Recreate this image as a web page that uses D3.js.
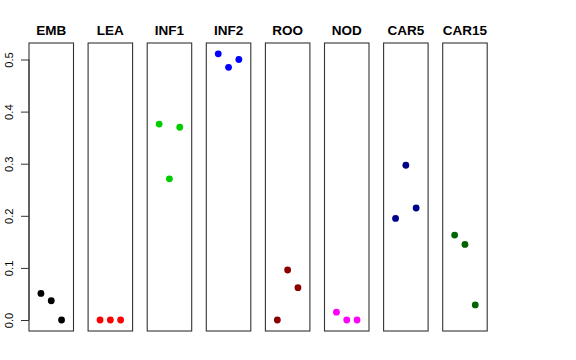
<!DOCTYPE html>
<html><head><meta charset="utf-8">
<script src="https://cdn.jsdelivr.net/npm/d3@7"></script>
<style>body{margin:0;background:#fff}svg{display:block}</style>
</head><body>
<script>
const categories = ["EMB","LEA","INF1","INF2","ROO","NOD","CAR5","CAR15"];
const colors = ["#000000","#FF0000","#00CD00","#0000FF","#8B0000","#FF00FF","#00008B","#006400"];
const values = [
  [0.051, 0.037, 0.000],
  [0.000, 0.000, 0.000],
  [0.376, 0.271, 0.370],
  [0.511, 0.485, 0.500],
  [0.000, 0.096, 0.062],
  [0.015, 0.000, 0.000],
  [0.195, 0.297, 0.215],
  [0.163, 0.145, 0.029]
];
const yTicks = [0.0, 0.1, 0.2, 0.3, 0.4, 0.5];
const tickLabels = ["0.0","0.1","0.2","0.3","0.4","0.5"];

(function () {
const W = 576, H = 360;
const svg = d3.select("body").append("svg").attr("width", W).attr("height", H);

const plotTop = 43, plotBottom = 331;
const y = d3.scaleLinear().domain([-0.0211, 0.5317]).range([plotBottom, plotTop]);
const panelLeft = 29, panelStep = 59.1, panelW = 44.5;

categories.forEach((c, i) => {
  const x0 = panelLeft + i * panelStep;
  const x = d3.scaleLinear().domain([-0.16, 4.16]).range([x0, x0 + panelW]);
  const g = svg.append("g");
  g.append("rect").attr("x", x0).attr("y", plotTop).attr("width", panelW).attr("height", plotBottom - plotTop)
    .attr("fill", "none").attr("stroke", "#333").attr("stroke-width", 1.1);
  g.append("text").attr("x", x0 + panelW / 2).attr("y", 35).attr("text-anchor", "middle")
    .attr("font-family", "Liberation Sans, Arial, sans-serif").attr("font-weight", "bold")
    .attr("font-size", "13.5px").text(c);
  g.selectAll("circle").data(values[i]).enter().append("circle")
    .attr("cx", (d, j) => x(j + 1)).attr("cy", d => y(d)).attr("r", 3.4)
    .attr("fill", colors[i]);
});

const axis = d3.axisLeft(y).tickValues(yTicks).tickFormat((d, i) => tickLabels[i]).tickSize(8).tickPadding(0);
const ag = svg.append("g").attr("transform", `translate(${panelLeft},0)`).call(axis);
ag.select(".domain").attr("d", `M-0,${y(0)}V${y(0.5)}`).attr("stroke", "#333");
ag.selectAll(".tick line").attr("stroke", "#333");
ag.selectAll(".tick text").remove();
ag.selectAll(".tick").append("text")
  .attr("transform", "translate(-20,0) rotate(-90)")
  .attr("text-anchor", "middle").attr("dy", "0.35em")
  .attr("fill", "#000")
  .attr("font-family", "Liberation Sans, Arial, sans-serif").attr("font-size", "11.2px")
  .text((d, i) => tickLabels[i]);
})();
</script>
</body></html>
